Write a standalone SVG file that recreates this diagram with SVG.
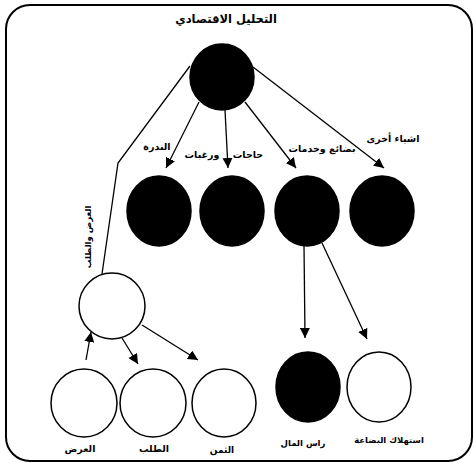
<svg xmlns="http://www.w3.org/2000/svg" width="473" height="463" viewBox="0 0 473 463">
<defs>
<marker id="ah" viewBox="0 0 10 10" refX="10" refY="5" markerWidth="10" markerHeight="10" markerUnits="userSpaceOnUse" orient="auto">
<path d="M0,0 L10,5 L0,10 z" fill="#000"/>
</marker>
<style>
.b{fill:#000;stroke:#000;stroke-width:1.5}
.w{fill:#fff;stroke:#000;stroke-width:1.5}
.c{fill:none;stroke:#000;stroke-width:1.3}
.a{fill:none;stroke:#000;stroke-width:1.3;marker-end:url(#ah)}
text{font-family:"DejaVu Sans",sans-serif;font-weight:bold;font-size:9.5px;fill:#000;text-anchor:middle}
.t{font-size:11.5px}
.s{font-size:8.5px}
</style>
</defs>
<rect x="6" y="5" width="466" height="456" rx="24" ry="24" fill="#fff" stroke="#000" stroke-width="2"/>
<text class="t" x="226" y="23">التحليل الاقتصادي</text>
<g id="connectors">
<polyline class="c" points="190,66 118,163 102,274"/>
<line class="a" x1="199" y1="102" x2="166" y2="168"/>
<line class="a" x1="225" y1="110" x2="228" y2="168"/>
<line class="a" x1="245" y1="102" x2="296" y2="168"/>
<line class="a" x1="253" y1="67" x2="384" y2="168"/>
<line class="a" x1="304" y1="245" x2="305" y2="338"/>
<line class="a" x1="322" y1="243" x2="367" y2="339"/>
<line class="a" x1="86" y1="360" x2="91" y2="332"/>
<line class="a" x1="122" y1="338" x2="138" y2="364"/>
<line class="a" x1="142" y1="325" x2="198" y2="360"/>
</g>
<g id="labels">
<text x="157" y="150">الندرة</text>
<text x="202" y="158">ورغبات</text>
<text x="248" y="158">حاجات</text>
<text x="322" y="152">بضائع وخدمات</text>
<text x="393" y="142">اشياء أخرى</text>
<text style="font-size:8.5px" transform="translate(91,237) rotate(-90)">العرض والطلب</text>
</g>
<g id="root"><ellipse class="b" cx="222" cy="77" rx="32" ry="33"/></g>
<g id="n1"><ellipse class="b" cx="159" cy="211" rx="32" ry="35"/></g>
<g id="n2"><ellipse class="b" cx="232" cy="211" rx="32" ry="35"/></g>
<g id="n3"><ellipse class="b" cx="307" cy="211" rx="32" ry="35"/></g>
<g id="n4"><ellipse class="b" cx="382" cy="211" rx="32" ry="35"/></g>
<g id="market"><ellipse class="w" cx="112" cy="306" rx="33" ry="33"/></g>
<g id="supply"><ellipse class="w" cx="84" cy="403" rx="33" ry="34"/><text x="80" y="452">العرض</text></g>
<g id="demand"><ellipse class="w" cx="153" cy="403" rx="33" ry="34"/><text x="154" y="452">الطلب</text></g>
<g id="price"><ellipse class="w" cx="224" cy="403" rx="32" ry="34"/><text style="font-size:9px" x="222" y="453">الثمن</text></g>
<g id="capital"><ellipse class="b" cx="308" cy="387" rx="32" ry="35"/><text class="s" x="303" y="446">راس المال</text></g>
<g id="consumption"><ellipse class="w" cx="379" cy="387" rx="32" ry="35"/><text class="s" x="389" y="443">استهلاك البضاعة</text></g>
</svg>
